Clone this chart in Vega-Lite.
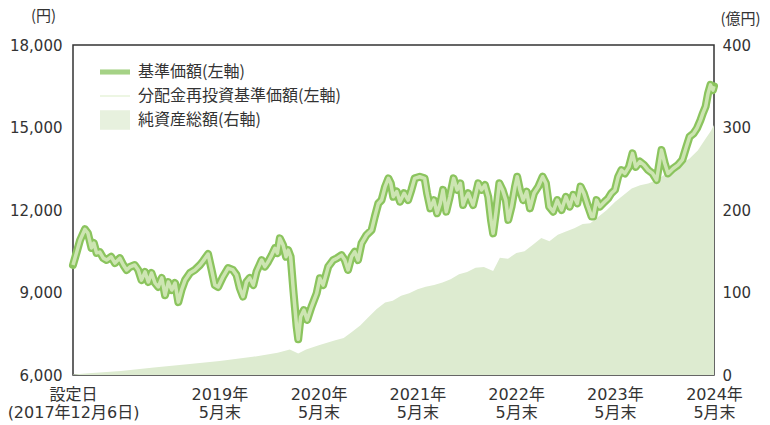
{
  "$schema": "https://vega.github.io/schema/vega-lite/v6.json",
  "width": 641,
  "height": 330,
  "autosize": "none",
  "padding": {"left": 73, "top": 45, "right": 56, "bottom": 50},
  "background": "white",
  "config": {
    "view": {"stroke": "#333333", "strokeWidth": 1.5},
    "axis": {
      "labelFont": "DejaVu Sans, Noto Sans CJK JP",
      "labelFontSize": 15,
      "labelColor": "#333333",
      "domain": false,
      "grid": false,
      "ticks": false,
      "titleFont": "Noto Sans CJK JP",
      "titleFontSize": 15,
      "titleFontWeight": "normal",
      "titleColor": "#333333"
    }
  },
  "datasets": {
    "nav": [
      {"date":"2017-12-06","nav":10000},{"date":"2017-12-20","nav":10480},{"date":"2018-01-01","nav":10900},{"date":"2018-01-19","nav":11300},{"date":"2018-01-30","nav":11160},{"date":"2018-02-12","nav":10620},{"date":"2018-02-21","nav":10800},{"date":"2018-03-03","nav":10440},{"date":"2018-03-15","nav":10470},{"date":"2018-03-28","nav":10250},{"date":"2018-04-09","nav":10180},{"date":"2018-04-26","nav":10300},{"date":"2018-05-10","nav":10070},{"date":"2018-05-28","nav":10250},{"date":"2018-06-10","nav":10000},{"date":"2018-06-22","nav":9820},{"date":"2018-07-04","nav":9930},{"date":"2018-07-22","nav":10000},{"date":"2018-08-04","nav":9820},{"date":"2018-08-16","nav":9450},{"date":"2018-08-29","nav":9750},{"date":"2018-09-10","nav":9380},{"date":"2018-09-22","nav":9710},{"date":"2018-10-05","nav":9345},{"date":"2018-10-17","nav":9200},{"date":"2018-10-30","nav":9530},{"date":"2018-11-11","nav":8900},{"date":"2018-11-23","nav":9380},{"date":"2018-12-06","nav":9090},{"date":"2018-12-18","nav":9345},{"date":"2018-12-30","nav":8650},{"date":"2019-01-11","nav":9090},{"date":"2019-01-24","nav":9450},{"date":"2019-02-11","nav":9710},{"date":"2019-03-01","nav":9820},{"date":"2019-03-20","nav":10000},{"date":"2019-04-01","nav":10150},{"date":"2019-04-19","nav":10400},{"date":"2019-05-02","nav":9820},{"date":"2019-05-14","nav":9270},{"date":"2019-05-26","nav":9200},{"date":"2019-06-13","nav":9570},{"date":"2019-07-02","nav":9890},{"date":"2019-07-20","nav":9820},{"date":"2019-08-02","nav":9640},{"date":"2019-08-14","nav":9160},{"date":"2019-08-26","nav":8850},{"date":"2019-09-08","nav":9390},{"date":"2019-09-20","nav":9530},{"date":"2019-10-03","nav":9270},{"date":"2019-10-15","nav":9760},{"date":"2019-11-03","nav":10180},{"date":"2019-11-15","nav":9940},{"date":"2019-11-27","nav":10120},{"date":"2019-12-10","nav":10360},{"date":"2019-12-22","nav":10610},{"date":"2019-12-31","nav":10430},{"date":"2020-01-09","nav":10970},{"date":"2020-01-21","nav":10730},{"date":"2020-02-01","nav":10300},{"date":"2020-02-09","nav":10540},{"date":"2020-02-18","nav":10300},{"date":"2020-02-28","nav":9090},{"date":"2020-03-11","nav":7760},{"date":"2020-03-17","nav":7300},{"date":"2020-03-26","nav":8120},{"date":"2020-04-07","nav":8360},{"date":"2020-04-19","nav":8000},{"date":"2020-05-05","nav":8480},{"date":"2020-05-24","nav":8970},{"date":"2020-06-05","nav":9520},{"date":"2020-06-17","nav":9270},{"date":"2020-07-06","nav":9940},{"date":"2020-07-24","nav":10180},{"date":"2020-08-06","nav":10240},{"date":"2020-08-24","nav":10360},{"date":"2020-09-05","nav":10180},{"date":"2020-09-17","nav":9820},{"date":"2020-09-30","nav":10300},{"date":"2020-10-12","nav":10480},{"date":"2020-10-24","nav":10180},{"date":"2020-11-06","nav":10790},{"date":"2020-11-24","nav":11090},{"date":"2020-12-13","nav":11270},{"date":"2020-12-25","nav":11760},{"date":"2021-01-07","nav":12240},{"date":"2021-01-19","nav":12360},{"date":"2021-02-01","nav":12850},{"date":"2021-02-13","nav":13150},{"date":"2021-02-22","nav":12970},{"date":"2021-03-03","nav":12480},{"date":"2021-03-16","nav":12670},{"date":"2021-03-28","nav":12300},{"date":"2021-04-12","nav":12610},{"date":"2021-04-27","nav":12360},{"date":"2021-05-09","nav":12730},{"date":"2021-05-21","nav":13150},{"date":"2021-06-09","nav":13210},{"date":"2021-06-27","nav":13150},{"date":"2021-07-06","nav":12610},{"date":"2021-07-18","nav":12060},{"date":"2021-07-31","nav":12360},{"date":"2021-08-12","nav":11880},{"date":"2021-08-24","nav":12240},{"date":"2021-09-03","nav":12730},{"date":"2021-09-15","nav":11940},{"date":"2021-09-28","nav":12480},{"date":"2021-10-12","nav":13150},{"date":"2021-10-25","nav":12730},{"date":"2021-11-06","nav":12970},{"date":"2021-11-16","nav":12180},{"date":"2021-11-22","nav":12360},{"date":"2021-12-05","nav":12610},{"date":"2021-12-23","nav":12180},{"date":"2022-01-11","nav":12970},{"date":"2022-01-23","nav":12730},{"date":"2022-02-05","nav":12910},{"date":"2022-02-17","nav":12480},{"date":"2022-02-27","nav":11640},{"date":"2022-03-07","nav":11150},{"date":"2022-03-17","nav":11880},{"date":"2022-03-30","nav":12970},{"date":"2022-04-11","nav":12730},{"date":"2022-04-23","nav":12360},{"date":"2022-05-02","nav":11640},{"date":"2022-05-14","nav":12120},{"date":"2022-05-27","nav":12850},{"date":"2022-06-04","nav":13210},{"date":"2022-06-14","nav":12730},{"date":"2022-06-26","nav":12360},{"date":"2022-07-09","nav":12670},{"date":"2022-07-21","nav":12060},{"date":"2022-08-05","nav":12610},{"date":"2022-08-21","nav":12850},{"date":"2022-09-06","nav":13210},{"date":"2022-09-18","nav":12970},{"date":"2022-09-30","nav":12120},{"date":"2022-10-15","nav":11940},{"date":"2022-10-30","nav":12360},{"date":"2022-11-15","nav":12000},{"date":"2022-12-01","nav":12480},{"date":"2022-12-15","nav":12120},{"date":"2022-12-28","nav":12550},{"date":"2023-01-12","nav":12240},{"date":"2023-01-24","nav":12850},{"date":"2023-02-05","nav":12610},{"date":"2023-02-21","nav":12120},{"date":"2023-03-06","nav":11760},{"date":"2023-03-12","nav":11760},{"date":"2023-03-24","nav":12360},{"date":"2023-04-05","nav":12120},{"date":"2023-04-23","nav":12300},{"date":"2023-05-06","nav":12420},{"date":"2023-05-18","nav":12610},{"date":"2023-05-31","nav":12730},{"date":"2023-06-12","nav":13210},{"date":"2023-06-24","nav":13450},{"date":"2023-07-07","nav":13330},{"date":"2023-07-22","nav":13570},{"date":"2023-08-04","nav":14060},{"date":"2023-08-16","nav":13570},{"date":"2023-08-31","nav":13760},{"date":"2023-09-15","nav":13640},{"date":"2023-10-01","nav":13450},{"date":"2023-10-17","nav":13330},{"date":"2023-11-01","nav":13090},{"date":"2023-11-13","nav":13820},{"date":"2023-11-19","nav":14180},{"date":"2023-12-01","nav":13700},{"date":"2023-12-13","nav":13330},{"date":"2024-01-01","nav":13510},{"date":"2024-01-19","nav":13640},{"date":"2024-02-04","nav":13820},{"date":"2024-02-19","nav":14300},{"date":"2024-03-02","nav":14670},{"date":"2024-03-17","nav":14790},{"date":"2024-03-29","nav":14970},{"date":"2024-04-11","nav":15270},{"date":"2024-04-20","nav":15520},{"date":"2024-04-30","nav":15760},{"date":"2024-05-09","nav":16240},{"date":"2024-05-18","nav":16550},{"date":"2024-05-27","nav":16360},{"date":"2024-05-31","nav":16500}
    ],
    "assets": [
      {"date":"2017-12-06","assets":0.5},{"date":"2018-02-01","assets":2},{"date":"2018-06-01","assets":5},{"date":"2018-10-01","assets":9},{"date":"2019-02-01","assets":13},{"date":"2019-06-01","assets":17},{"date":"2019-10-01","assets":22},{"date":"2020-01-01","assets":27},{"date":"2020-02-15","assets":31},{"date":"2020-03-17","assets":26},{"date":"2020-04-15","assets":31},{"date":"2020-06-01","assets":36},{"date":"2020-08-01","assets":42},{"date":"2020-09-01","assets":45},{"date":"2020-10-01","assets":52},{"date":"2020-11-01","assets":60},{"date":"2020-12-01","assets":70},{"date":"2021-01-01","assets":80},{"date":"2021-02-01","assets":88},{"date":"2021-03-01","assets":90},{"date":"2021-04-01","assets":96},{"date":"2021-05-01","assets":99},{"date":"2021-06-01","assets":104},{"date":"2021-07-01","assets":107},{"date":"2021-08-01","assets":109},{"date":"2021-09-01","assets":112},{"date":"2021-10-01","assets":116},{"date":"2021-11-01","assets":122},{"date":"2021-12-01","assets":125},{"date":"2022-01-01","assets":130},{"date":"2022-02-01","assets":131},{"date":"2022-03-07","assets":126},{"date":"2022-04-01","assets":142},{"date":"2022-05-01","assets":141},{"date":"2022-06-01","assets":148},{"date":"2022-07-01","assets":150},{"date":"2022-08-01","assets":158},{"date":"2022-09-01","assets":166},{"date":"2022-10-01","assets":162},{"date":"2022-11-01","assets":170},{"date":"2022-12-01","assets":174},{"date":"2023-01-01","assets":178},{"date":"2023-02-01","assets":183},{"date":"2023-03-01","assets":184},{"date":"2023-04-01","assets":192},{"date":"2023-05-01","assets":200},{"date":"2023-06-01","assets":210},{"date":"2023-07-01","assets":218},{"date":"2023-08-01","assets":226},{"date":"2023-09-01","assets":230},{"date":"2023-10-01","assets":232},{"date":"2023-11-01","assets":236},{"date":"2023-12-01","assets":243},{"date":"2024-01-01","assets":248},{"date":"2024-02-01","assets":256},{"date":"2024-03-01","assets":262},{"date":"2024-04-01","assets":272},{"date":"2024-05-01","assets":287},{"date":"2024-05-20","assets":296},{"date":"2024-05-31","assets":303}
    ],
    "xticks": [{"date":"2019-05-31"},{"date":"2020-05-31"},{"date":"2021-05-31"},{"date":"2022-05-31"},{"date":"2023-05-31"}],
    "leftticks": [{"nav":9000},{"nav":12000},{"nav":15000}],
    "rightticks": [{"assets":100},{"assets":200},{"assets":300}]
  },
  "encoding": {
    "x": {
      "field": "date",
      "type": "temporal",
      "scale": {"type": "utc", "domain": [{"year": 2017, "month": 12, "date": 6, "utc": true}, {"year": 2024, "month": 5, "date": 31, "utc": true}]},
      "axis": {
        "title": null,
        "values": [{"year": 2017, "month": 12, "date": 6, "utc": true}, {"year": 2019, "month": 5, "date": 31, "utc": true}, {"year": 2020, "month": 5, "date": 31, "utc": true}, {"year": 2021, "month": 5, "date": 31, "utc": true}, {"year": 2022, "month": 5, "date": 31, "utc": true}, {"year": 2023, "month": 5, "date": 31, "utc": true}, {"year": 2024, "month": 5, "date": 31, "utc": true}],
        "labelExpr": "utcyear(datum.value) == 2017 ? ['設定日', '(2017年12月6日)'] : [utcyear(datum.value) + '年', '5月末']",
        "labelFontSize": 16,
        "labelLineHeight": 18,
        "labelAlign": "center",
        "labelBaseline": "top",
        "labelFlush": false,
        "labelOverlap": false,
        "labelPadding": 11
      }
    }
  },
  "layer": [
    {
      "encoding": {
        "y": {
          "field": "assets",
          "type": "quantitative",
          "scale": {"domain": [0, 400]},
          "axis": {"orient": "right", "values": [0, 100, 200, 300, 400], "labelPadding": 8, "title": "(億円)", "titleAngle": 0, "titleX": 26, "titleY": -27, "titleAlign": "center", "titleBaseline": "middle"}
        }
      },
      "layer": [
        {"data": {"name": "assets"}, "mark": {"type": "area", "color": "#DDEBD0"}, "encoding": {}}
      ]
    },
    {
      "data": {"name": "nav"},
      "encoding": {
        "y": {
          "field": "nav",
          "type": "quantitative",
          "scale": {"domain": [6000, 18000]},
          "axis": {"orient": "left", "values": [6000, 9000, 12000, 15000, 18000], "format": ",d", "labelPadding": 11, "title": "(円)", "titleAngle": 0, "titleX": -30, "titleY": -30, "titleAlign": "center", "titleBaseline": "middle"}
        }
      },
      "layer": [
        {"mark": {"type": "line", "color": "#8BC45E", "strokeWidth": 8, "strokeJoin": "round", "strokeCap": "round"}, "encoding": {}},
        {"mark": {"type": "line", "color": "#CDE5B2", "strokeWidth": 3.5, "strokeJoin": "round"}, "encoding": {}},
        {
          "data": {"name": "xticks"},
          "mark": {"type": "tick", "orient": "vertical", "color": "#333333", "size": 22, "thickness": 1.5, "opacity": 1, "clip": true},
          "encoding": {"y": {"datum": 6000, "type": "quantitative"}}
        },
        {
          "data": {"name": "leftticks"},
          "mark": {"type": "tick", "orient": "horizontal", "color": "#333333", "size": 24, "thickness": 1.5, "opacity": 1, "clip": true},
          "encoding": {"x": {"datum": {"year": 2017, "month": 12, "date": 6, "utc": true}, "type": "temporal"}}
        }
      ]
    },
    {
      "data": {"name": "rightticks"},
      "mark": {"type": "tick", "orient": "horizontal", "color": "#333333", "size": 24, "thickness": 1.5, "opacity": 1, "clip": true},
      "encoding": {
        "x": {"datum": {"year": 2024, "month": 5, "date": 31, "utc": true}, "type": "temporal"},
        "y": {"field": "assets", "type": "quantitative", "scale": {"domain": [0, 400]}, "axis": null}
      }
    },
    {
      "data": {"values": []},
      "mark": {"type": "point", "filled": true},
      "encoding": {
        "color": {
          "field": "series",
          "type": "nominal",
          "scale": {"domain": ["基準価額(左軸)", "分配金再投資基準価額(左軸)", "純資産総額(右軸)"], "range": ["#7FBF52", "#CDE5B2", "#DDEBD0"]},
          "legend": {"orient": "none", "legendX": 27, "legendY": 12, "title": null, "symbolSize": 900, "symbolStrokeWidth": 0, "labelFont": "Noto Sans CJK JP", "labelFontSize": 16, "labelColor": "#333333", "labelOffset": 8, "labelLimit": 0, "rowPadding": 1}
        },
        "shape": {
          "field": "series",
          "type": "nominal",
          "scale": {"domain": ["基準価額(左軸)", "分配金再投資基準価額(左軸)", "純資産総額(右軸)"], "range": ["M-1,-0.17H1V0.17H-1Z", "M-1,-0.035H1V0.035H-1Z", "M-1,-0.65H1V0.65H-1Z"]}
        }
      }
    }
  ],
  "resolve": {"scale": {"y": "independent"}}
}
